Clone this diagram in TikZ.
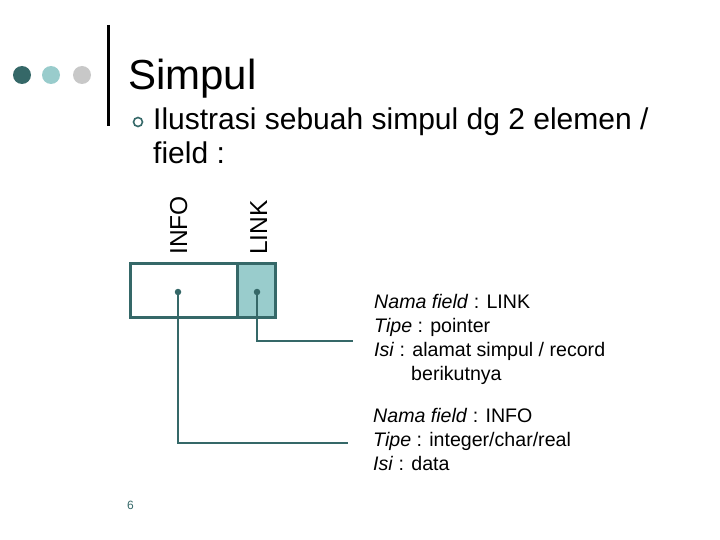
\documentclass[tikz,border=0pt]{standalone}
\usepackage{fontspec}
\setmainfont{Liberation Sans}
\definecolor{dteal}{HTML}{356868}
\definecolor{lteal}{HTML}{99CCCC}
\definecolor{lgrey}{HTML}{C8C8C8}
\begin{document}
\begin{tikzpicture}[x=1pt,y=-1pt,
  txt/.style={anchor=base west,inner sep=0pt,font=\fontsize{19.6}{24}\selectfont},
  conn/.style={draw=dteal,line width=1.4pt},
  pin/.style={circle,fill=dteal,inner sep=0pt,minimum size=6.5pt}]
\useasboundingbox (0,0) rectangle (720,540);
% decoration
\fill[dteal] (22,75) circle (9);
\fill[lteal] (51,75) circle (9);
\fill[lgrey] (82,75) circle (9);
\draw[black,line width=3pt] (108,25) -- (108,126);
\node[anchor=base west,inner sep=0pt,font=\fontsize{42}{48}\selectfont] (title) at (128,90) {Simpul};
\draw[dteal,line width=1.6pt] (138,122) circle (4.5);
\node[anchor=base west,inner sep=0pt,font=\fontsize{30}{34}\selectfont] (b1) at (153,130) {Ilustrasi sebuah simpul dg 2 elemen /};
\node[anchor=base west,inner sep=0pt,font=\fontsize{30}{34}\selectfont] (b2) at (153,164) {field :};
% labels
\node[anchor=base west,inner sep=0pt,rotate=90,font=\fontsize{24.5}{28}\selectfont] (linfo) at (187,255) {INFO};
\node[anchor=base west,inner sep=0pt,rotate=90,font=\fontsize{24.5}{28}\selectfont] (llink) at (267,255) {LINK};
% box
\node[draw=dteal,line width=3pt,minimum width=107pt,minimum height=54pt,inner sep=0pt] (info) at (183.5,290.5) {};
\node[draw=dteal,fill=lteal,line width=3pt,minimum width=38pt,minimum height=54pt,inner sep=0pt] (link) at (256,290.5) {};
\node[pin] (pi) at (178,292) {};
\node[pin] (pl) at (257,292) {};
\coordinate (el) at (353,341);
\coordinate (ei) at (348,443);
\draw[conn] (pl.center) |- (el);
\draw[conn] (pi.center) |- (ei);
% descriptions
\node[txt] (t1) at (374,308) {\textit{Nama field} : LINK};
\node[txt] (t2) at (374,332) {\textit{Tipe} : pointer};
\node[txt] (t3) at (374,356) {\textit{Isi} : alamat simpul / record};
\node[txt] (t4) at (411,380) {berikutnya};
\node[txt] (t5) at (373,422) {\textit{Nama field} : INFO};
\node[txt] (t6) at (373,446) {\textit{Tipe} : integer/char/real};
\node[txt] (t7) at (373,470) {\textit{Isi} : data};
\node[anchor=base west,inner sep=0pt,text=dteal,font=\fontsize{12}{14}\selectfont] (pg) at (127,509) {6};
\end{tikzpicture}
\end{document}
